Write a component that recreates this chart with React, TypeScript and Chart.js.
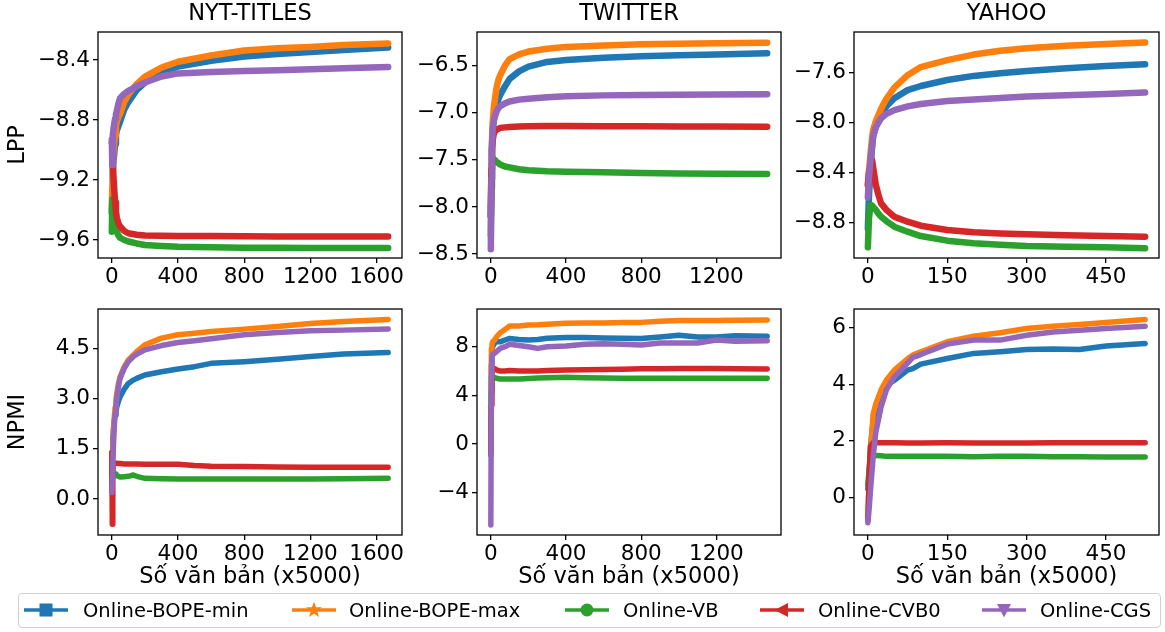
import React, { useEffect, useRef } from "react";
import { Chart, registerables } from "chart.js";

Chart.register(...registerables);

// ---------- series ----------
const SERIES_NAMES = ["Online-BOPE-min", "Online-BOPE-max", "Online-VB", "Online-CVB0", "Online-CGS"];
const COLORS = ["#1f77b4", "#ff7f0e", "#2ca02c", "#d62728", "#9467bd"];

// ---------- NYT-TITLES : LPP ----------
const nytLppX = [0, 3, 6, 10, 15, 20, 25, 30, 40, 50, 75, 100, 150, 200, 300, 400, 600, 800, 1000, 1200, 1400, 1670];
const nytLppBopeMin = [-9.42, -9.3, -9.15, -9.07, -9.02, -8.96, -8.9, -8.87, -8.84, -8.81, -8.73, -8.68, -8.6, -8.55, -8.48, -8.444, -8.405, -8.376, -8.36, -8.347, -8.333, -8.316];
const nytLppBopeMax = [-9.4, -9.25, -9.1, -9.02, -8.96, -8.9, -8.84, -8.81, -8.78, -8.76, -8.68, -8.63, -8.56, -8.51, -8.45, -8.411, -8.37, -8.336, -8.322, -8.313, -8.3, -8.289];
const nytLppVB = [-9.545, -9.33, -9.36, -9.4, -9.44, -9.49, -9.525, -9.545, -9.57, -9.585, -9.6, -9.61, -9.623, -9.633, -9.64, -9.645, -9.649, -9.651, -9.652, -9.653, -9.653, -9.653];
const nytLppCVB0 = [-8.95, -8.95, -9.1, -9.18, -9.27, -9.35, -9.41, -9.45, -9.49, -9.51, -9.54, -9.555, -9.565, -9.57, -9.572, -9.573, -9.574, -9.575, -9.576, -9.576, -9.577, -9.577];
const nytLppCGS = [-8.93, -9.1, -8.9, -8.86, -8.82, -8.79, -8.76, -8.74, -8.69, -8.655, -8.625, -8.605, -8.575, -8.55, -8.51, -8.489, -8.48, -8.473, -8.468, -8.462, -8.455, -8.447];

// ---------- TWITTER : LPP ----------
const twLppX = [0, 3, 6, 10, 15, 20, 30, 40, 50, 75, 100, 150, 200, 300, 400, 600, 800, 1000, 1200, 1470];
const twLppBopeMin = [-8.1, -7.7, -7.4, -7.2, -7.08, -7.02, -6.93, -6.86, -6.81, -6.72, -6.64, -6.56, -6.51, -6.46, -6.44, -6.415, -6.4, -6.39, -6.38, -6.368];
const twLppBopeMax = [-8.0, -7.6, -7.3, -7.1, -6.97, -6.88, -6.74, -6.65, -6.6, -6.5, -6.43, -6.38, -6.35, -6.32, -6.3, -6.285, -6.273, -6.267, -6.262, -6.256];
const twLppVB = [-8.3, -7.8, -7.55, -7.48, -7.49, -7.5, -7.52, -7.535, -7.55, -7.57, -7.58, -7.6, -7.61, -7.62, -7.625, -7.632, -7.64, -7.645, -7.648, -7.65];
const twLppCVB0 = [-8.1, -7.6, -7.4, -7.29, -7.23, -7.2, -7.18, -7.17, -7.16, -7.155, -7.15, -7.145, -7.142, -7.14, -7.14, -7.142, -7.144, -7.145, -7.146, -7.147];
const twLppCGS = [-8.45, -7.7, -7.35, -7.18, -7.1, -7.05, -6.99, -6.95, -6.93, -6.9, -6.88, -6.86, -6.85, -6.835, -6.825, -6.815, -6.81, -6.808, -6.806, -6.804];

// ---------- YAHOO : LPP ----------
const yaLppX = [0, 2, 5, 8, 10, 15, 20, 25, 35, 50, 75, 100, 150, 200, 250, 300, 375, 450, 524];
const yaLppBopeMin = [-8.85, -8.6, -8.35, -8.2, -8.11, -8.03, -7.98, -7.94, -7.87, -7.805, -7.74, -7.707, -7.659, -7.626, -7.605, -7.586, -7.565, -7.546, -7.533];
const yaLppBopeMax = [-8.5, -8.4, -8.25, -8.12, -8.06, -7.99, -7.94, -7.89, -7.81, -7.72, -7.62, -7.555, -7.5, -7.455, -7.425, -7.405, -7.385, -7.37, -7.359];
const yaLppVB = [-9.0, -8.77, -8.66, -8.665, -8.675, -8.7, -8.73, -8.755, -8.79, -8.835, -8.875, -8.91, -8.947, -8.968, -8.98, -8.99, -8.996, -9.0, -9.008];
const yaLppCVB0 = [-8.5, -8.4, -8.35, -8.3, -8.36, -8.5, -8.58, -8.648, -8.7, -8.755, -8.795, -8.827, -8.861, -8.88, -8.89, -8.896, -8.903, -8.909, -8.915];
const yaLppCGS = [-8.6, -8.45, -8.3, -8.18, -8.11, -8.04, -8.0, -7.966, -7.93, -7.9, -7.87, -7.851, -7.827, -7.816, -7.803, -7.792, -7.781, -7.771, -7.76];

// ---------- NYT-TITLES : NPMI ----------
const nytNpmiX = [0, 3, 6, 10, 15, 20, 25, 30, 40, 50, 75, 100, 130, 150, 200, 300, 400, 500, 600, 800, 1000, 1200, 1400, 1670];
const nytNpmiBopeMin = [0.8, 1.4, 1.8, 2.1, 2.35, 2.5, 2.6, 2.75, 2.92, 3.05, 3.28, 3.45, 3.55, 3.6, 3.7, 3.8, 3.88, 3.95, 4.05, 4.1, 4.17, 4.25, 4.33, 4.37];
const nytNpmiBopeMax = [0.3, 0.9, 1.4, 2.0, 2.45, 2.75, 2.95, 3.15, 3.45, 3.65, 3.95, 4.15, 4.3, 4.4, 4.6, 4.8, 4.9, 4.95, 5.0, 5.07, 5.15, 5.24, 5.3, 5.36];
const nytNpmiVB = [0.5, 0.9, 0.85, 0.8, 0.78, 0.75, 0.72, 0.7, 0.68, 0.66, 0.67, 0.68, 0.72, 0.68, 0.62, 0.61, 0.6, 0.6, 0.6, 0.6, 0.6, 0.6, 0.61, 0.62];
const nytNpmiCVB0 = [1.4, -0.75, 0.9, 1.05, 1.07, 1.07, 1.07, 1.07, 1.06, 1.06, 1.05, 1.05, 1.05, 1.05, 1.04, 1.04, 1.04, 1.0, 0.98, 0.97, 0.96, 0.95, 0.95, 0.95];
const nytNpmiCGS = [0.2, 0.6, 1.0, 1.6, 2.2, 2.55, 2.8, 3.0, 3.35, 3.6, 3.9, 4.1, 4.25, 4.32, 4.45, 4.58, 4.67, 4.72, 4.78, 4.9, 4.97, 5.02, 5.04, 5.07];

// ---------- TWITTER : NPMI ----------
const twNpmiX = [0, 3, 6, 10, 20, 30, 50, 75, 100, 150, 200, 250, 300, 400, 500, 600, 700, 800, 900, 1000, 1100, 1200, 1300, 1470];
const twNpmiBopeMin = [0.9, 6.5, 7.8, 8.0, 8.3, 8.4, 8.4, 8.55, 8.68, 8.6, 8.55, 8.6, 8.7, 8.75, 8.75, 8.72, 8.7, 8.68, 8.8, 8.95, 8.8, 8.8, 8.9, 8.87];
const twNpmiBopeMax = [1.0, 7.8, 8.2, 8.4, 8.55, 8.8, 9.15, 9.4, 9.7, 9.7, 9.78, 9.8, 9.85, 9.92, 9.95, 9.95, 10.0, 10.0, 10.1, 10.15, 10.15, 10.15, 10.18, 10.19];
const twNpmiVB = [-0.5, 4.3, 5.25, 5.4, 5.48, 5.4, 5.35, 5.35, 5.35, 5.35, 5.38, 5.42, 5.45, 5.48, 5.45, 5.42, 5.4, 5.4, 5.4, 5.4, 5.4, 5.4, 5.4, 5.4];
const twNpmiCVB0 = [-0.9, 3.2, 5.8, 6.2, 6.2, 6.1, 6.0, 6.0, 6.04, 6.0, 6.0, 6.0, 6.05, 6.08, 6.1, 6.12, 6.15, 6.18, 6.18, 6.2, 6.2, 6.2, 6.18, 6.16];
const twNpmiCGS = [-6.65, 5.5, 7.2, 7.4, 7.45, 7.6, 7.86, 8.0, 8.2, 8.1, 8.0, 7.86, 8.0, 8.05, 8.2, 8.25, 8.2, 8.14, 8.3, 8.3, 8.3, 8.55, 8.45, 8.49];

// ---------- YAHOO : NPMI ----------
const yaNpmiX = [0, 2, 5, 10, 15, 25, 35, 50, 75, 85, 100, 150, 200, 250, 300, 350, 400, 450, 524];
const yaNpmiBopeMin = [0.3, 0.8, 1.8, 2.73, 3.1, 3.67, 3.95, 4.14, 4.5, 4.55, 4.71, 4.91, 5.09, 5.15, 5.23, 5.25, 5.23, 5.35, 5.44];
const yaNpmiBopeMax = [-0.7, 0.3, 1.6, 2.95, 3.3, 3.8, 4.15, 4.5, 4.9, 5.03, 5.15, 5.5, 5.7, 5.82, 5.97, 6.05, 6.11, 6.18, 6.29];
const yaNpmiVB = [0.45, 0.9, 1.45, 1.48, 1.48, 1.47, 1.45, 1.45, 1.45, 1.45, 1.45, 1.45, 1.44, 1.45, 1.45, 1.44, 1.44, 1.43, 1.43];
const yaNpmiCVB0 = [-0.8, 0.5, 1.8, 1.93, 1.93, 1.93, 1.93, 1.93, 1.92, 1.92, 1.92, 1.93, 1.92, 1.92, 1.92, 1.93, 1.93, 1.93, 1.93];
const yaNpmiCGS = [-0.9, -0.5, 0.26, 1.43, 2.3, 3.2, 3.8, 4.26, 4.75, 4.95, 5.05, 5.42, 5.56, 5.56, 5.73, 5.85, 5.91, 5.97, 6.05];

// ---------- ticks ----------
const nytXTicks = [0, 400, 800, 1200, 1600];
const twXTicks = [0, 400, 800, 1200];
const yaXTicks = [0, 150, 300, 450];
const nytLppTicks = [-9.6, -9.2, -8.8, -8.4];
const twLppTicks = [-8.5, -8.0, -7.5, -7.0, -6.5];
const yaLppTicks = [-8.8, -8.4, -8.0, -7.6];
const nytNpmiTicks = [0, 1.5, 3.0, 4.5];
const twNpmiTicks = [-4, 0, 4, 8];
const yaNpmiTicks = [0, 2, 4, 6];

const X_LABEL = "Số văn bản (x5000)";
const FONT = "'DejaVu Sans', sans-serif";

type Panel = {
  title?: string;
  yTitle?: string;
  xTitle?: string;
  xs: number[];
  ys: number[][];
  xRange: [number, number];
  yRange: [number, number];
  xTicks: number[];
  yTicks: number[];
  dec: number;
  col: number;
  row: number;
};

const PANELS: Panel[] = [
  { title: "NYT-TITLES", yTitle: "LPP", xs: nytLppX, ys: [nytLppBopeMin, nytLppBopeMax, nytLppVB, nytLppCVB0, nytLppCGS], xRange: [-83.5, 1753.5], yRange: [-9.72, -8.213], xTicks: nytXTicks, yTicks: nytLppTicks, dec: 1, col: 0, row: 0 },
  { title: "TWITTER", xs: twLppX, ys: [twLppBopeMin, twLppBopeMax, twLppVB, twLppCVB0, twLppCGS], xRange: [-73.5, 1543.5], yRange: [-8.542, -6.142], xTicks: twXTicks, yTicks: twLppTicks, dec: 1, col: 1, row: 0 },
  { title: "YAHOO", xs: yaLppX, ys: [yaLppBopeMin, yaLppBopeMax, yaLppVB, yaLppCVB0, yaLppCGS], xRange: [-26.2, 550.2], yRange: [-9.086, -7.274], xTicks: yaXTicks, yTicks: yaLppTicks, dec: 1, col: 2, row: 0 },
  { yTitle: "NPMI", xTitle: X_LABEL, xs: nytNpmiX, ys: [nytNpmiBopeMin, nytNpmiBopeMax, nytNpmiVB, nytNpmiCVB0, nytNpmiCGS], xRange: [-83.5, 1753.5], yRange: [-1.07, 5.67], xTicks: nytXTicks, yTicks: nytNpmiTicks, dec: 1, col: 0, row: 1 },
  { xTitle: X_LABEL, xs: twNpmiX, ys: [twNpmiBopeMin, twNpmiBopeMax, twNpmiVB, twNpmiCVB0, twNpmiCGS], xRange: [-73.5, 1543.5], yRange: [-7.48, 11.1], xTicks: twXTicks, yTicks: twNpmiTicks, dec: 0, col: 1, row: 1 },
  { xTitle: X_LABEL, xs: yaNpmiX, ys: [yaNpmiBopeMin, yaNpmiBopeMax, yaNpmiVB, yaNpmiCVB0, yaNpmiCGS], xRange: [-26.2, 550.2], yRange: [-1.33, 6.66], xTicks: yaXTicks, yTicks: yaNpmiTicks, dec: 0, col: 2, row: 1 },
];

// layout (plot-area rectangles in page pixels)
const COL_L = [98, 477, 854];
const COL_R = [402, 781, 1159];
const ROW_T = [32, 309];
const ROW_B = [258, 535];
const AX_W = 98;
const TOP_H = 32;
const BOT_H = 62;
const PAD_R = 30;
const TICK_FONT = 21.5;
const TITLE_FONT = 22.5;

function fmt(v: number, dec: number) {
  const s = Math.abs(v).toFixed(dec);
  return (v < -1e-9 ? "\u2212" : "") + s;
}

const framePlugin = {
  id: "frame",
  afterDatasetsDraw(chart: any) {
    const { ctx, chartArea: a } = chart;
    ctx.save();
    ctx.strokeStyle = "#000";
    ctx.lineWidth = 1.3;
    ctx.strokeRect(a.left, a.top, a.right - a.left, a.bottom - a.top);
    ctx.restore();
  },
};

function PanelChart({ p }: { p: Panel }) {
  const ref = useRef<HTMLCanvasElement | null>(null);
  const L = COL_L[p.col], R = COL_R[p.col], T = ROW_T[p.row], B = ROW_B[p.row];
  const w = R - L + AX_W + PAD_R;
  const h = B - T + TOP_H + BOT_H;

  useEffect(() => {
    if (!ref.current) return;
    const datasets = p.ys.map((arr, i) => ({
      label: SERIES_NAMES[i],
      data: arr.map((y, j) => ({ x: p.xs[j], y })),
      borderColor: COLORS[i],
      backgroundColor: COLORS[i],
      borderWidth: p.row === 0 ? 6.5 : 5.5,
      pointRadius: 0,
      tension: 0,
      fill: false,
      borderJoinStyle: "round" as const,
      borderCapStyle: "round" as const,
      order: 5 - i,
    }));
    const chart = new Chart(ref.current, {
      type: "line",
      data: { datasets },
      plugins: [framePlugin],
      options: {
        animation: false,
        responsive: false,
        maintainAspectRatio: false,
        events: [],
        layout: { padding: { left: 0, right: PAD_R, top: p.title ? 0 : TOP_H, bottom: 0 } },
        plugins: {
          legend: { display: false },
          tooltip: { enabled: false },
          title: {
            display: !!p.title,
            text: p.title || "",
            fullSize: false,
            color: "#000",
            font: { family: FONT, size: TITLE_FONT, weight: "normal", lineHeight: 1.2 },
            padding: { top: 1, bottom: TOP_H - 1 - TITLE_FONT * 1.2 },
          },
        },
        scales: {
          x: {
            type: "linear",
            min: p.xRange[0],
            max: p.xRange[1],
            afterFit: (s: any) => { s.height = BOT_H; },
            afterBuildTicks: (s: any) => { s.ticks = p.xTicks.map((v) => ({ value: v })); },
            ticks: {
              autoSkip: false,
              maxRotation: 0,
              color: "#000",
              padding: 2,
              font: { family: FONT, size: TICK_FONT },
              callback: (v: any) => fmt(Number(v), 0),
            },
            grid: { display: true, drawOnChartArea: false, drawTicks: true, tickLength: 5, color: "#000", lineWidth: 1.3 },
            border: { display: false },
            title: {
              display: !!p.xTitle,
              text: p.xTitle || "",
              color: "#000",
              font: { family: FONT, size: TITLE_FONT, lineHeight: 1.2 },
              padding: { top: 0, bottom: 6 },
            },
          },
          y: {
            type: "linear",
            min: p.yRange[0],
            max: p.yRange[1],
            afterFit: (s: any) => { s.width = AX_W; },
            afterBuildTicks: (s: any) => { s.ticks = p.yTicks.map((v) => ({ value: v })); },
            ticks: {
              autoSkip: false,
              color: "#000",
              padding: 3,
              font: { family: FONT, size: TICK_FONT },
              callback: (v: any) => fmt(Number(v), p.dec),
            },
            grid: { display: true, drawOnChartArea: false, drawTicks: true, tickLength: 5, color: "#000", lineWidth: 1.3 },
            border: { display: false },
            title: {
              display: !!p.yTitle,
              text: p.yTitle || "",
              color: "#000",
              font: { family: FONT, size: TITLE_FONT, lineHeight: 1.2 },
              padding: { top: 5, bottom: 0 },
            },
          },
        },
      } as any,
    });
    return () => chart.destroy();
  }, [p]);

  return (
    <canvas
      ref={ref}
      width={w}
      height={h}
      style={{ position: "absolute", left: L - AX_W, top: T - TOP_H, width: w, height: h }}
    />
  );
}

function Marker({ i }: { i: number }) {
  const c = COLORS[i];
  const cx = 22, cy = 10;
  if (i === 0) return <rect x={cx - 6.5} y={cy - 6.5} width={13} height={13} fill={c} />;
  if (i === 1) {
    const pts: string[] = [];
    for (let k = 0; k < 10; k++) {
      const r = k % 2 === 0 ? 8.5 : 3.4;
      const a = -Math.PI / 2 + (k * Math.PI) / 5;
      pts.push(`${cx + r * Math.cos(a)},${cy + r * Math.sin(a)}`);
    }
    return <polygon points={pts.join(" ")} fill={c} />;
  }
  if (i === 2) return <circle cx={cx} cy={cy} r={6.5} fill={c} />;
  if (i === 3) return <polygon points={`${cx - 7.5},${cy} ${cx + 6},${cy - 7} ${cx + 6},${cy + 7}`} fill={c} />;
  return <polygon points={`${cx - 7},${cy - 6} ${cx + 7},${cy - 6} ${cx},${cy + 7.5}`} fill={c} />;
}

const LEGEND_LINE_X = [24, 292, 565, 760, 982];
const LEGEND_TEXT_X = [83, 349, 623, 818, 1040];

function Legend() {
  return (
    <div
      style={{
        position: "absolute",
        left: 18,
        top: 593,
        width: 1143,
        height: 35,
        boxSizing: "border-box",
        border: "1px solid #d0d0d0",
        borderRadius: 4,
        background: "rgba(255,255,255,0.8)",
      }}
    >
      {SERIES_NAMES.map((name, i) => (
        <React.Fragment key={name}>
          <svg
            width={44}
            height={20}
            style={{ position: "absolute", left: LEGEND_LINE_X[i] - 18 - 1, top: 6 }}
          >
            <line x1={0} y1={10} x2={44} y2={10} stroke={COLORS[i]} strokeWidth={3.5} />
            <Marker i={i} />
          </svg>
          <span
            style={{
              position: "absolute",
              left: LEGEND_TEXT_X[i] - 18 - 1,
              top: 0,
              lineHeight: "33px",
              fontFamily: FONT,
              fontSize: 19.5,
              color: "#000",
              whiteSpace: "nowrap",
            }}
          >
            {name}
          </span>
        </React.Fragment>
      ))}
    </div>
  );
}

export default function App() {
  return (
    <div
      style={{
        position: "absolute",
        left: 0,
        top: 0,
        width: 1165,
        height: 632,
        background: "#fff",
        overflow: "hidden",
      }}
    >
      {PANELS.map((p, i) => (
        <PanelChart key={i} p={p} />
      ))}
      <Legend />
    </div>
  );
}
